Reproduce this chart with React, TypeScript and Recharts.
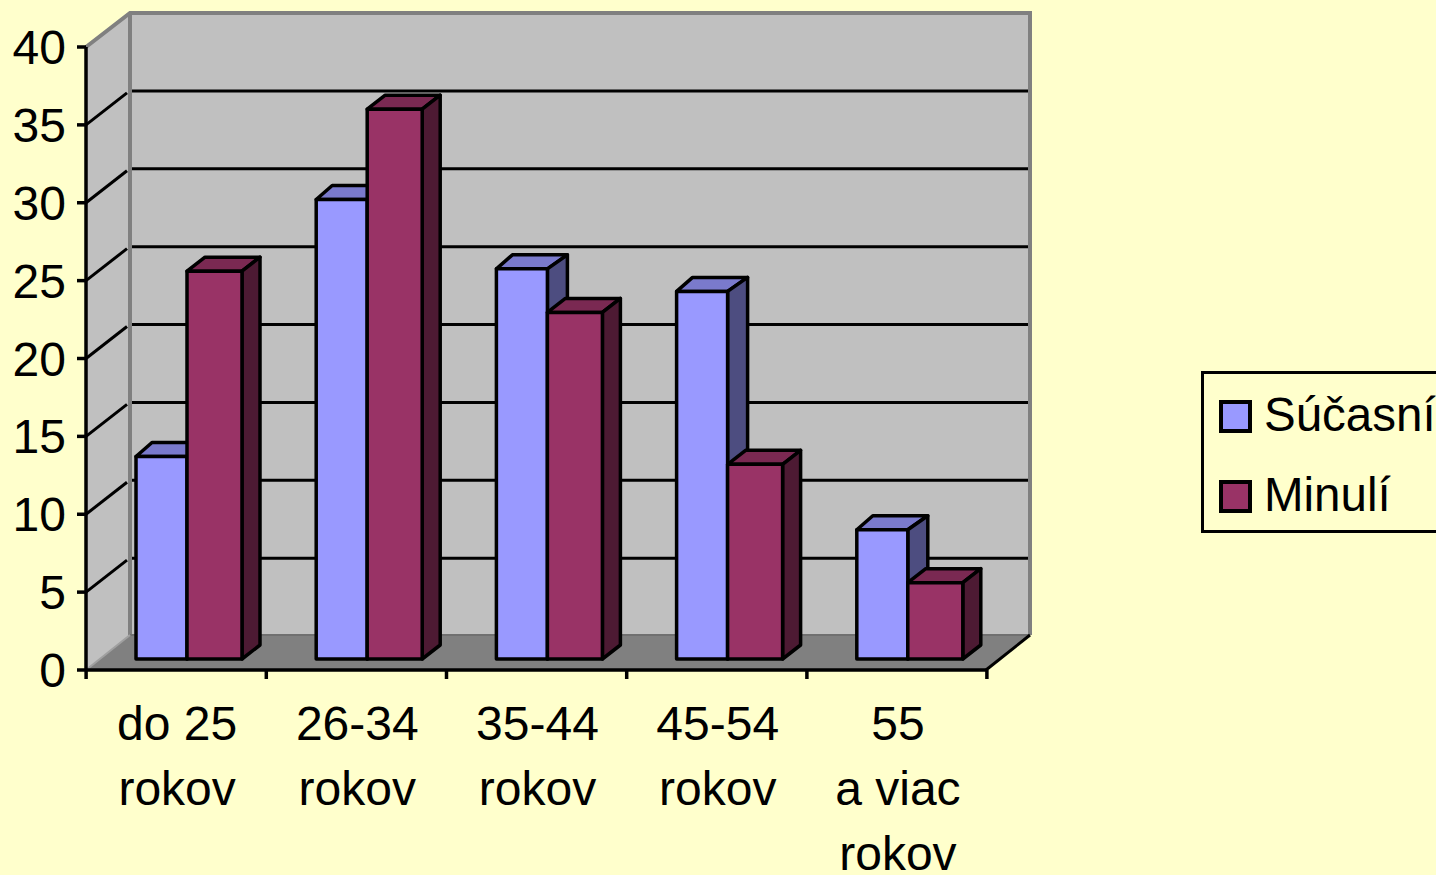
import { Bar, BarChart, CartesianGrid, Legend, XAxis, YAxis } from "recharts";

const categories = ["do 25\nrokov", "26-34\nrokov", "35-44\nrokov", "45-54\nrokov", "55\na viac\nrokov"];
const currentValues = [13, 29.5, 25.05, 23.6, 8.3];
const formerValues = [24.9, 35.3, 22.25, 12.5, 4.9];
const yTicks = [0, 5, 10, 15, 20, 25, 30, 35, 40];

const data = categories.map((category, i) => ({
  category,
  current: currentValues[i],
  former: formerValues[i],
}));

const FONT = '"Liberation Sans", Arial, sans-serif';
const FONT_SIZE = 48;
const BG = "#FFFFCC";
const LEFT = 86;
const TOP = 47;
const RIGHT = 986;
const BOTTOM = 670;
const DEPTH_X = 44;
const DEPTH_Y = 35;
const LINE = 3.5;

// back wall, side wall and floor sit behind the transparent chart svg
function Walls() {
  const backL = LEFT + DEPTH_X;
  const backR = RIGHT + DEPTH_X;
  const backT = TOP - DEPTH_Y + 1;
  const backB = BOTTOM - DEPTH_Y;
  return (
    <svg width={1436} height={875} style={{ position: "absolute", left: 0, top: 0 }}>
      <rect x={backL} y={backT} width={RIGHT - LEFT} height={backB - backT} fill="#C0C0C0" />
      <polygon points={`${LEFT},${TOP} ${backL},${backT} ${backL},${backB} ${LEFT},${BOTTOM}`} fill="#C0C0C0" />
      <polygon points={`${LEFT},${BOTTOM} ${backL},${backB} ${backR},${backB} ${RIGHT},${BOTTOM}`} fill="#808080" />
      <polyline
        points={`${LEFT},${TOP} ${backL},${backT} ${backR},${backT} ${backR},${backB}`}
        fill="none"
        stroke="#808080"
        strokeWidth={4}
      />
      <line x1={backL} y1={backT} x2={backL} y2={backB} stroke="#808080" strokeWidth={4} />
      <line x1={backL} y1={backB} x2={backR} y2={backB} stroke="#707070" strokeWidth={2} />
      <line x1={LEFT} y1={BOTTOM} x2={backL} y2={backB} stroke="#A0A0A0" strokeWidth={2} />
      <line x1={RIGHT} y1={BOTTOM} x2={backR} y2={backB} stroke="#000" strokeWidth={3} />
    </svg>
  );
}

function GridLine(props: any) {
  const { x1, y1, key } = props;
  if (y1 <= TOP + 1 || y1 >= BOTTOM - 1) return <g key={key} />;
  return (
    <g key={key}>
      <line x1={x1} y1={y1} x2={x1 + DEPTH_X - 3} y2={y1 - DEPTH_Y + 3} stroke="#000" strokeWidth={LINE - 0.5} />
      <line x1={x1 + DEPTH_X + 2} y1={y1 - DEPTH_Y + 1} x2={RIGHT + DEPTH_X - 2} y2={y1 - DEPTH_Y + 1} stroke="#000" strokeWidth={LINE - 0.5} />
    </g>
  );
}

// front face offset from the axis plane, the bars stand in the middle of the floor
function box3d(props: any, c: { dx: number; w: number; backL: number; backR: number; front: string; top: string; side: string }) {
  const x = props.x + c.dx;
  const r = x + c.w;
  const t = props.y - 11;
  const b = props.y + props.height - 11;
  const up = 14;
  return (
    <g stroke="#000" strokeWidth={LINE} strokeLinejoin="round">
      <polygon
        points={`${x},${t} ${x + c.backL},${t - up} ${r + c.backR},${t - up} ${r},${t}`}
        fill={c.top}
      />
      <polygon
        points={`${r},${t} ${r + c.backR},${t - up} ${r + c.backR},${b - up} ${r},${b}`}
        fill={c.side}
      />
      <rect x={x} y={t} width={c.w} height={b - t} fill={c.front} />
    </g>
  );
}

const CurrentBar = (props: any) =>
  box3d(props, { dx: 13, w: 51, backL: 16, backR: 20, front: "#9999FF", top: "#7A7ACC", side: "#4D4D80" });
const FormerBar = (props: any) =>
  box3d(props, { dx: 11, w: 55, backL: 18, backR: 18, front: "#993366", top: "#7A2952", side: "#4D1A33" });

// ticks fall between the categories, so each label also draws its left edge tick
function CategoryTick(props: any) {
  const { x, payload, index } = props;
  const lines = String(payload.value).split("\n");
  const half = 90;
  return (
    <g>
      <line x1={x - half} y1={BOTTOM} x2={x - half} y2={BOTTOM + 9} stroke="#000" strokeWidth={LINE} />
      {index === categories.length - 1 && (
        <line x1={x + half} y1={BOTTOM} x2={x + half} y2={BOTTOM + 9} stroke="#000" strokeWidth={LINE} />
      )}
      <text textAnchor="middle" fontFamily={FONT} fontSize={FONT_SIZE} fill="#000">
        {lines.map((line, i) => (
          <tspan key={i} x={x + 1} y={740 + i * 65}>
            {line}
          </tspan>
        ))}
      </text>
    </g>
  );
}

function ChartLegend(props: any) {
  const items = props.payload ?? [];
  return (
    <div
      style={{
        position: "relative",
        width: 300,
        height: 156,
        border: "3px solid #000",
        boxSizing: "content-box",
        background: BG,
        fontFamily: FONT,
        fontSize: 47.5,
        color: "#000",
      }}
    >
      {items.map((item: any, i: number) => (
        <div key={item.value} style={{ position: "absolute", left: 0, top: 14 + i * 80, height: 52, whiteSpace: "nowrap" }}>
          <span
            style={{
              position: "absolute",
              left: 15,
              top: 12,
              width: 25,
              height: 25,
              border: "4px solid #000",
              background: item.color,
            }}
          />
          <span style={{ position: "absolute", left: 60, top: 1, lineHeight: "52px" }}>{item.value}</span>
        </div>
      ))}
    </div>
  );
}

export default function App() {
  return (
    <div style={{ position: "fixed", left: 0, top: 0, width: 1436, height: 875, overflow: "hidden", background: BG }}>
      <Walls />
      <BarChart
        width={1436}
        height={875}
        data={data}
        barSize={53}
        barGap={0}
        barCategoryGap={37}
        margin={{ left: 0, top: TOP, right: 1436 - RIGHT - 1, bottom: 0 }}
      >
        <CartesianGrid horizontal={GridLine} vertical={false} />
        <XAxis
          dataKey="category"
          height={875 - BOTTOM}
          interval={0}
          tick={CategoryTick}
          tickSize={9}
          axisLine={{ stroke: "#000", strokeWidth: LINE }}
          tickLine={false}
        />
        <YAxis
          width={LEFT}
          domain={[0, 40]}
          ticks={yTicks}
          interval={0}
          tickSize={9}
          tickMargin={11}
          tick={{ fill: "#000", fontSize: FONT_SIZE, fontFamily: FONT }}
          axisLine={{ stroke: "#000", strokeWidth: LINE }}
          tickLine={{ stroke: "#000", strokeWidth: LINE }}
        />
        <Bar dataKey="current" name="Súčasní" fill="#9999FF" shape={CurrentBar} isAnimationActive={false} />
        <Bar dataKey="former" name="Minulí" fill="#993366" shape={FormerBar} isAnimationActive={false} />
        <Legend
          content={ChartLegend}
          itemSorter={null}
          layout="horizontal"
          align="center"
          verticalAlign="middle"
          wrapperStyle={{ position: "absolute", left: 1201, top: 371, width: 306, bottom: "auto", margin: 0 }}
        />
      </BarChart>
    </div>
  );
}
